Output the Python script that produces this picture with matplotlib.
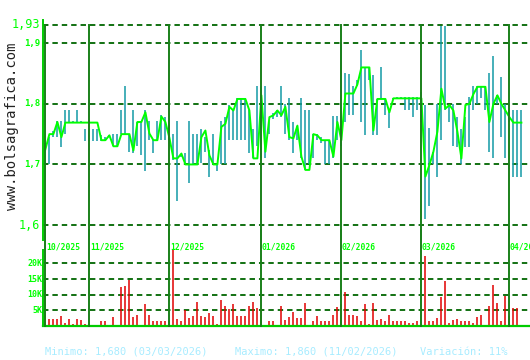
import matplotlib
matplotlib.use("Agg")
import matplotlib.pyplot as plt
import matplotlib.transforms as mtransforms

# daily close, high, low (Oct 2025 - Apr 2026)
close = [1.725, 1.750, 1.750, 1.770, 1.745, 1.769, 1.769, 1.769, 1.769, 1.769,
         1.769, 1.769, 1.769, 1.769, 1.740, 1.740, 1.748, 1.730, 1.730, 1.750,
         1.750, 1.750, 1.723, 1.770, 1.770, 1.786, 1.751, 1.740, 1.740, 1.779,
         1.770, 1.744, 1.710, 1.710, 1.718, 1.700, 1.700, 1.700, 1.700, 1.745,
         1.756, 1.715, 1.700, 1.700, 1.762, 1.767, 1.795, 1.789, 1.808, 1.808,
         1.808, 1.789, 1.710, 1.710, 1.814, 1.721, 1.778, 1.781, 1.789, 1.781,
         1.795, 1.745, 1.743, 1.764, 1.713, 1.691, 1.691, 1.750, 1.748, 1.740,
         1.740, 1.740, 1.713, 1.770, 1.740, 1.817, 1.817, 1.817, 1.832, 1.860,
         1.860, 1.860, 1.756, 1.808, 1.808, 1.808, 1.786, 1.809, 1.809, 1.809,
         1.809, 1.809, 1.809, 1.809, 1.809, 1.680, 1.699, 1.721, 1.754, 1.825,
         1.792, 1.798, 1.789, 1.754, 1.710, 1.798, 1.800, 1.816, 1.828, 1.828,
         1.828, 1.770, 1.800, 1.814, 1.800, 1.789, 1.778, 1.769, 1.769, 1.769]
high = [1.735, 1.745, 1.755, 1.771, 1.771, 1.790, 1.790, 1.771, 1.790, 1.771,
        1.759, 1.759, 1.759, 1.759, 1.748, 1.745, 1.749, 1.750, 1.750, 1.790,
        1.830, 1.750, 1.790, 1.770, 1.770, 1.790, 1.772, 1.740, 1.771, 1.781,
        1.778, 1.750, 1.750, 1.771, 1.718, 1.719, 1.771, 1.750, 1.750, 1.759,
        1.745, 1.724, 1.750, 1.700, 1.771, 1.779, 1.798, 1.789, 1.810, 1.810,
        1.810, 1.789, 1.759, 1.830, 1.830, 1.830, 1.771, 1.785, 1.789, 1.830,
        1.800, 1.810, 1.770, 1.764, 1.810, 1.790, 1.790, 1.750, 1.750, 1.745,
        1.740, 1.740, 1.780, 1.780, 1.900, 1.850, 1.849, 1.830, 1.840, 1.888,
        1.860, 1.860, 1.847, 1.808, 1.860, 1.808, 1.789, 1.810, 1.811, 1.811,
        1.811, 1.811, 1.811, 1.811, 1.820, 1.798, 1.760, 1.721, 1.800, 1.928,
        1.928, 1.798, 1.800, 1.778, 1.759, 1.778, 1.811, 1.830, 1.830, 1.830,
        1.830, 1.850, 1.879, 1.814, 1.845, 1.800, 1.790, 1.790, 1.790, 1.790]
low = [1.675, 1.700, 1.745, 1.745, 1.728, 1.750, 1.770, 1.769, 1.770, 1.769,
       1.738, 1.738, 1.738, 1.738, 1.738, 1.740, 1.745, 1.730, 1.730, 1.750,
       1.750, 1.720, 1.719, 1.730, 1.715, 1.690, 1.740, 1.719, 1.740, 1.740,
       1.740, 1.740, 1.708, 1.640, 1.712, 1.700, 1.670, 1.700, 1.700, 1.702,
       1.720, 1.680, 1.700, 1.690, 1.700, 1.700, 1.740, 1.740, 1.740, 1.740,
       1.740, 1.719, 1.710, 1.730, 1.710, 1.710, 1.751, 1.775, 1.778, 1.778,
       1.750, 1.740, 1.719, 1.740, 1.710, 1.691, 1.700, 1.710, 1.740, 1.735,
       1.700, 1.700, 1.710, 1.740, 1.730, 1.770, 1.781, 1.781, 1.830, 1.770,
       1.748, 1.840, 1.748, 1.748, 1.808, 1.781, 1.760, 1.808, 1.808, 1.808,
       1.789, 1.789, 1.778, 1.790, 1.770, 1.610, 1.631, 1.700, 1.680, 1.740,
       1.790, 1.770, 1.730, 1.729, 1.700, 1.729, 1.729, 1.790, 1.800, 1.810,
       1.789, 1.720, 1.710, 1.800, 1.745, 1.710, 1.770, 1.680, 1.680, 1.680]
volume = [14.0, 2.2, 2.2, 2.2, 3.2, 1.0, 2.2, 0.6, 2.2, 2.0,
          0.6, 0.3, 0.3, 0.3, 1.6, 1.6, 0.3, 2.8, 0.3, 12.4,
          12.8, 14.7, 2.8, 3.4, 0.3, 7.0, 3.6, 1.6, 1.6, 1.6,
          1.6, 1.6, 24.2, 2.2, 1.6, 5.1, 2.4, 3.2, 7.7, 3.2,
          2.8, 4.1, 3.2, 0.6, 8.3, 6.4, 5.4, 7.0, 3.2, 3.2,
          3.2, 6.4, 7.7, 5.7, 5.4, 0.3, 1.6, 1.6, 0.3, 6.4,
          2.0, 2.8, 4.5, 2.4, 2.4, 7.3, 0.3, 1.6, 3.2, 1.6,
          1.6, 1.6, 3.6, 6.0, 7.0, 10.9, 3.4, 3.4, 3.2, 1.6,
          7.0, 0.6, 7.3, 2.0, 2.2, 1.6, 3.4, 1.6, 1.6, 1.6,
          1.6, 1.0, 1.0, 1.6, 0.3, 22.3, 1.6, 1.6, 2.4, 9.2,
          14.4, 1.0, 2.0, 2.2, 1.6, 1.6, 1.6, 1.0, 2.8, 3.4,
          0.3, 6.4, 13.1, 7.3, 1.6, 9.5, 3.2, 5.7, 5.7, 0.3]
month_start = [0, 11, 31, 54, 74, 94, 116]
month_labels = ["10/2025", "11/2025", "12/2025", "01/2026", "02/2026", "03/2026", "04/2026"]
price_ticks = [1.93, 1.9, 1.8, 1.7, 1.6]
price_tick_labels = ["1,93", "1,9", "1,8", "1,7", "1,6"]
vol_ticks = [5, 10, 15, 20]
vol_tick_labels = ["5K", "10K", "15K", "20K"]

days = list(range(len(close)))
volume_units = [v * 1000 for v in volume]

W, H = 530, 360
fig = plt.figure(figsize=(W / 100, H / 100), dpi=100, facecolor="white")

bright = "#00ff00"
spine_green = "#00cc00"
dark_green = "#006600"
month_green = "#1a801a"
teal = "#139aa6"
red = "#e00000"
mono = "DejaVu Sans Mono"

x_left, x_right = 43, 530
xmin, xmax = -0.6, -0.6 + (x_right - x_left) / 4.0

# price panel (top y=20px, bottom y=240px)
ax = fig.add_axes([x_left / W, 1 - 240 / H, (x_right - x_left) / W, 220 / H])
ax.set_xlim(xmin, xmax)
ylo, yhi = 1.6 - 15 / 610, 1.93 + 5 / 610
ax.set_ylim(ylo, yhi)
for s in ["top", "right", "bottom"]:
    ax.spines[s].set_visible(False)
ax.spines["left"].set_color(spine_green)
ax.spines["left"].set_linewidth(1.4)
ax.set_xticks([])
ax.set_yticks([])
ax.patch.set_alpha(0)

for t in price_ticks:
    ax.axhline(t, color=dark_green, lw=1.3, ls=(0, (3, 2.2)), zorder=1)

ax.vlines(days, low, high, color=teal, lw=1.1, zorder=2)
ax.plot(days, close, color=bright, lw=1.4, zorder=3)

for m in month_start:
    ax.axvline(m, ymin=0, ymax=(1.93 - ylo) / (yhi - ylo),
               color=month_green, lw=1.4, zorder=4)

lab_tr = mtransforms.blended_transform_factory(fig.transFigure, ax.transData)
for t, lab in zip(price_ticks, price_tick_labels):
    big = lab in ("1,93", "1,6")
    ax.text(40 / W, t, lab, transform=lab_tr, ha="right", va="center",
            color=bright, family=mono, fontsize=8.5 if big else 6.5,
            fontweight="normal" if big else "bold")

mon_tr = mtransforms.blended_transform_factory(ax.transData, fig.transFigure)
for m, lab in zip(month_start, month_labels):
    ax.text(m + 0.1, 1 - 242 / H, lab, transform=mon_tr, ha="left", va="top",
            color=bright, family=mono, fontsize=5.8, fontweight="bold", clip_on=False)

# volume panel (top y=250px, bottom y=326px)
vax = fig.add_axes([x_left / W, 1 - 326 / H, (x_right - x_left) / W, 76 / H])
vax.set_xlim(xmin, xmax)
vax.set_ylim(0, 24300)
for s in ["top", "right"]:
    vax.spines[s].set_visible(False)
vax.spines["left"].set_color(spine_green)
vax.spines["left"].set_linewidth(1.4)
vax.spines["bottom"].set_color(spine_green)
vax.spines["bottom"].set_linewidth(1.6)
vax.set_xticks([])
vax.set_yticks([])
vax.patch.set_alpha(0)

for t in vol_ticks:
    vax.axhline(t * 1000, color=dark_green, lw=1.3, ls=(0, (3, 2.2)), zorder=1)
vax.vlines(days, 0, volume_units, color=red, lw=1.1, zorder=2)
for m in month_start:
    vax.axvline(m, ymin=0, ymax=(326 - 230) / 76, color=month_green, lw=1.4,
                zorder=4, clip_on=False)

vlab_tr = mtransforms.blended_transform_factory(fig.transFigure, vax.transData)
for t, lab in zip(vol_ticks, vol_tick_labels):
    vax.text(42 / W, t * 1000, lab, transform=vlab_tr, ha="right", va="center",
             color=bright, family=mono, fontsize=6, fontweight="bold")

# watermark
fig.text(12 / W, 1 - 126 / H, "www.bolsagrafica.com", rotation=90, ha="center",
         va="center", color="#222222", family=mono, fontsize=10)

# footer
foot = "#a8ecff"
fig.text(45 / W, 1 - 352 / H, "Minimo: 1,680 (03/03/2026)", ha="left", va="center",
         color=foot, family=mono, fontsize=7.5)
fig.text(235 / W, 1 - 352 / H, "Maximo: 1,860 (11/02/2026)", ha="left", va="center",
         color=foot, family=mono, fontsize=7.5)
fig.text(420 / W, 1 - 352 / H, "Variación: 11%", ha="left", va="center",
         color=foot, family=mono, fontsize=7.5)

fig.savefig("out.png", dpi=100, facecolor="white")
